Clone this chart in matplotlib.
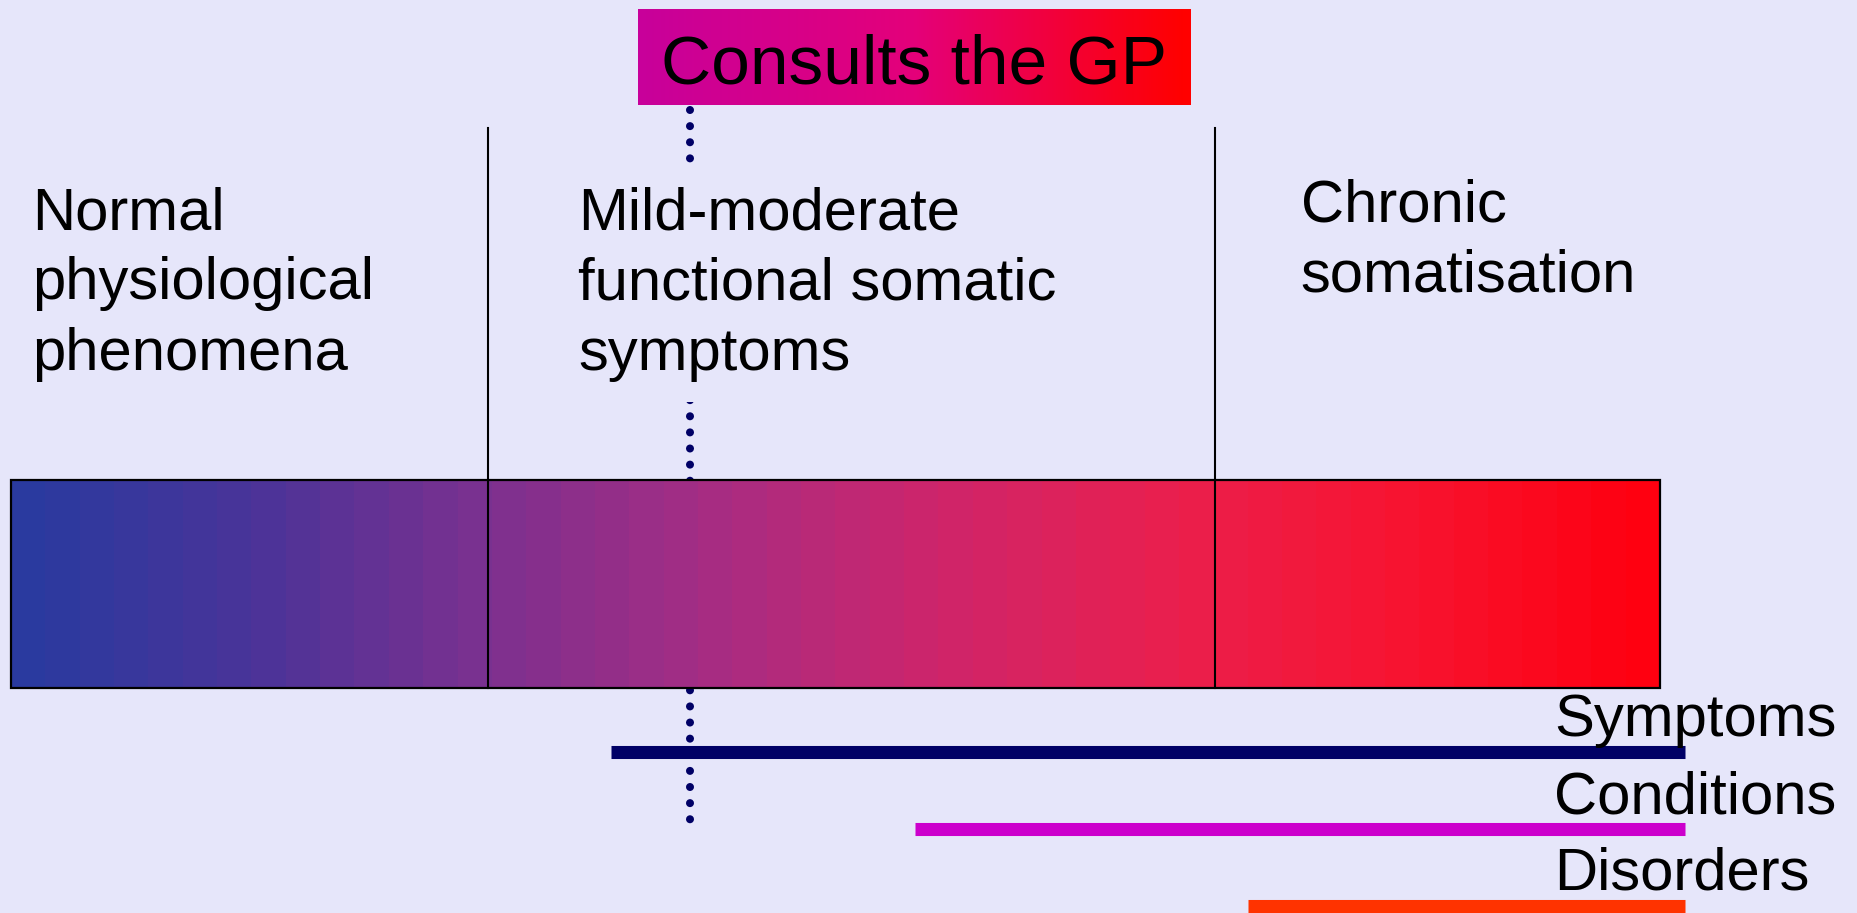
import matplotlib.pyplot as plt
import numpy as np
from matplotlib.colors import LinearSegmentedColormap

# severity scale: the bar runs from 0 to 100
stage_names = ["Normal\nphysiological\nphenomena",
               "Mild-moderate\nfunctional somatic\nsymptoms",
               "Chronic\nsomatisation"]
stage_bounds = [0, 28.9, 73.0, 100]
gp_point = 41.2
gp_label = "Consults the GP"

levels = ["Symptoms", "Conditions", "Disorders"]
level_start = [36.4, 54.8, 75.0]
level_end = 101.5
level_colors = ["#000066", "#CC00CC", "#FF3300"]

# bar colour stops
bar_stops = [0.0, 0.139, 0.278, 0.418, 0.569, 0.718, 0.860, 1.0]
bar_colors = ["#2A3A9F", "#4A3499", "#7A3190", "#A52D84",
              "#D0256A", "#EB1F4C", "#F8132F", "#FF0010"]

bg = "#E6E6FA"
W, H = 1858, 913
px = 16.49  # pixels per unit of severity
x0 = 11     # pixel where the bar starts

fig = plt.figure(figsize=(W / 100, H / 100), dpi=100, facecolor=bg)
ax = fig.add_axes([0, 0, 1, 1])
ax.set_facecolor(bg)
ax.set_xlim(-x0 / px, (W - x0) / px)
ax.set_ylim(H, 0)
ax.axis("off")

font = "Liberation Sans"

# gradient bar
cmap = LinearSegmentedColormap.from_list("sev", list(zip(bar_stops, bar_colors)), N=48)
grad = np.linspace(0, 1, 48).reshape(1, -1)
bar_top, bar_bot = 480, 688
ax.imshow(grad, cmap=cmap, aspect="auto", interpolation="nearest",
          extent=[stage_bounds[0], stage_bounds[-1], bar_bot, bar_top], zorder=3)
ax.add_patch(plt.Rectangle((stage_bounds[0], bar_top), stage_bounds[-1] - stage_bounds[0],
                           bar_bot - bar_top, fill=False, ec="black", lw=1.6, zorder=4))

# stage dividers
for b in stage_bounds[1:-1]:
    ax.plot([b, b], [128, bar_bot], color="black", lw=1.5, zorder=4)

# GP dotted line
ax.plot([gp_point, gp_point], [110, 822], color="#000066", lw=5.8,
        linestyle=(0, (0.001, 2.0)), dash_capstyle="round", zorder=1)

# title box with gradient
title_l, title_r = 38.0, 71.5
tcmap = LinearSegmentedColormap.from_list("gp", ["#C8009A", "#E4007A", "#FF0000"])
ax.imshow(grad, cmap=tcmap, aspect="auto", interpolation="bilinear",
          extent=[title_l, title_r, 105.5, 9.5], zorder=3)
ax.text((title_l + title_r) / 2, 83, gp_label, ha="center", va="baseline",
        fontsize=50, family=font, color="black", zorder=5)

# stage labels
label_x = [1.3, 34.4, 78.2]
label_y = [186, 186, 178]
for name, lx, ly in zip(stage_names, label_x, label_y):
    ax.text(lx, ly, name, ha="left", va="top", fontsize=43, family=font,
            linespacing=1.36, color="black", zorder=2,
            bbox=dict(facecolor=bg, edgecolor="none", pad=14))

# symptom / condition / disorder lines
line_y = [752, 829, 906]
for name, start, col, ly in zip(levels, level_start, level_colors, line_y):
    ax.plot([start, level_end], [ly, ly], color=col, lw=9.4,
            solid_capstyle="butt", zorder=5)
    ax.text(93.6, ly - 16, name, ha="left", va="baseline", fontsize=43,
            family=font, color="black", zorder=6)

plt.savefig("out.png", dpi=100, facecolor=bg)
plt.close(fig)
